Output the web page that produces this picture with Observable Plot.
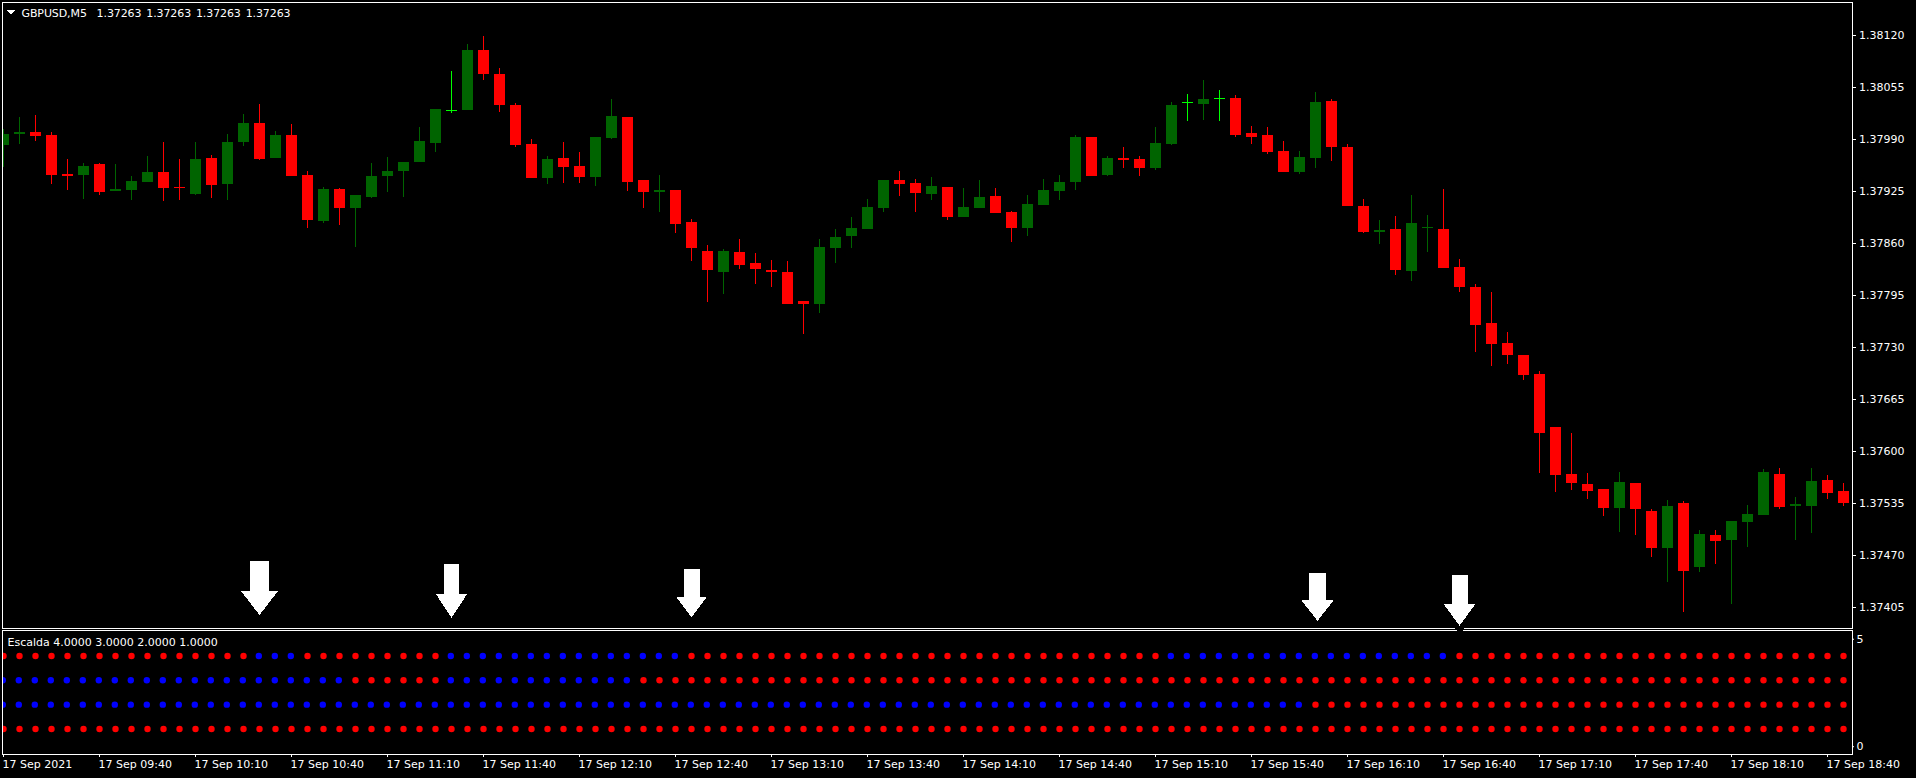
<!DOCTYPE html>
<html>
<head>
<meta charset="utf-8">
<script src="https://cdn.jsdelivr.net/npm/d3@7"></script>
<script src="https://cdn.jsdelivr.net/npm/@observablehq/plot@0.6"></script>
<style>
html,body{margin:0;padding:0;background:#000;overflow:hidden}
#chart{position:relative;width:1916px;height:778px}
#chart svg{display:block;position:absolute;left:0}
.hdr text{word-spacing:1.5px;letter-spacing:-0.1px}
</style>
</head>
<body>
<div id="chart"></div>
<script>
const high=[1.38003,1.38018,1.38020,1.37999,1.37965,1.37960,1.37960,1.37959,1.37944,1.37969,1.37986,1.37965,1.37986,1.37970,1.37996,1.38021,1.38034,1.38000,1.38009,1.37950,1.37930,1.37929,1.37920,1.37960,1.37968,1.37961,1.38005,1.38028,1.38075,1.38109,1.38119,1.38079,1.38035,1.37990,1.37969,1.37986,1.37974,1.37993,1.38040,1.38018,1.37939,1.37945,1.37926,1.37890,1.37858,1.37853,1.37865,1.37848,1.37839,1.37838,1.37788,1.37865,1.37878,1.37893,1.37915,1.37939,1.37950,1.37940,1.37943,1.37930,1.37929,1.37939,1.37929,1.37900,1.37920,1.37940,1.37945,1.37995,1.37993,1.37969,1.37980,1.37969,1.38005,1.38036,1.38046,1.38064,1.38051,1.38045,1.38006,1.38005,1.37988,1.37975,1.38049,1.38040,1.37984,1.37915,1.37889,1.37894,1.37920,1.37895,1.37928,1.37840,1.37809,1.37799,1.37749,1.37720,1.37700,1.37630,1.37623,1.37573,1.37553,1.37574,1.37560,1.37528,1.37539,1.37538,1.37501,1.37501,1.37513,1.37533,1.37578,1.37579,1.37543,1.37579,1.37570,1.37560];
const low=[1.37955,1.37984,1.37988,1.37934,1.37926,1.37915,1.37920,1.37925,1.37914,1.37936,1.37913,1.37914,1.37920,1.37916,1.37914,1.37981,1.37964,1.37966,1.37944,1.37879,1.37885,1.37883,1.37855,1.37916,1.37924,1.37918,1.37961,1.37974,1.38023,1.38026,1.38064,1.38024,1.37980,1.37941,1.37934,1.37935,1.37935,1.37931,1.37990,1.37925,1.37904,1.37899,1.37873,1.37838,1.37786,1.37796,1.37828,1.37809,1.37805,1.37784,1.37746,1.37773,1.37835,1.37854,1.37878,1.37899,1.37919,1.37899,1.37914,1.37889,1.37893,1.37904,1.37898,1.37861,1.37869,1.37908,1.37914,1.37926,1.37944,1.37944,1.37954,1.37944,1.37951,1.37983,1.38013,1.38014,1.38013,1.37993,1.37984,1.37971,1.37949,1.37946,1.37954,1.37963,1.37906,1.37873,1.37859,1.37820,1.37813,1.37849,1.37829,1.37799,1.37724,1.37706,1.37709,1.37689,1.37573,1.37549,1.37551,1.37540,1.37519,1.37499,1.37495,1.37468,1.37436,1.37399,1.37449,1.37459,1.37409,1.37480,1.37520,1.37528,1.37489,1.37498,1.37540,1.37531];
const open=[1.37983,1.37996,1.37999,1.37995,1.37946,1.37945,1.37959,1.37925,1.37926,1.37936,1.37949,1.37930,1.37921,1.37966,1.37934,1.37986,1.38010,1.37966,1.37995,1.37945,1.37888,1.37928,1.37904,1.37918,1.37944,1.37950,1.37961,1.37985,1.38026,1.38026,1.38101,1.38071,1.38033,1.37984,1.37941,1.37966,1.37956,1.37943,1.37991,1.38018,1.37939,1.37924,1.37926,1.37886,1.37850,1.37824,1.37849,1.37835,1.37826,1.37824,1.37788,1.37784,1.37854,1.37869,1.37878,1.37904,1.37939,1.37935,1.37921,1.37930,1.37893,1.37904,1.37919,1.37899,1.37879,1.37908,1.37925,1.37936,1.37993,1.37945,1.37966,1.37965,1.37954,1.37984,1.38036,1.38034,1.38041,1.38041,1.37998,1.37995,1.37975,1.37949,1.37966,1.38038,1.37980,1.37906,1.37874,1.37878,1.37825,1.37879,1.37878,1.37830,1.37805,1.37760,1.37735,1.37720,1.37696,1.37630,1.37571,1.37559,1.37553,1.37529,1.37560,1.37525,1.37479,1.37535,1.37455,1.37495,1.37489,1.37511,1.37520,1.37571,1.37531,1.37531,1.37564,1.37550];
const close=[1.37996,1.37999,1.37994,1.37945,1.37944,1.37956,1.37924,1.37928,1.37938,1.37949,1.37929,1.37929,1.37965,1.37933,1.37986,1.38010,1.37965,1.37995,1.37944,1.37889,1.37928,1.37904,1.37920,1.37944,1.37950,1.37961,1.37988,1.38028,1.38026,1.38101,1.38071,1.38033,1.37983,1.37941,1.37965,1.37955,1.37943,1.37993,1.38019,1.37936,1.37924,1.37926,1.37884,1.37854,1.37826,1.37850,1.37833,1.37828,1.37824,1.37784,1.37784,1.37855,1.37868,1.37879,1.37905,1.37939,1.37934,1.37923,1.37931,1.37893,1.37905,1.37918,1.37898,1.37879,1.37909,1.37926,1.37936,1.37993,1.37944,1.37966,1.37964,1.37954,1.37985,1.38033,1.38036,1.38040,1.38041,1.37995,1.37993,1.37974,1.37949,1.37968,1.38036,1.37980,1.37906,1.37874,1.37876,1.37826,1.37885,1.37880,1.37829,1.37805,1.37758,1.37734,1.37720,1.37695,1.37623,1.37570,1.37560,1.37550,1.37529,1.37561,1.37528,1.37479,1.37531,1.37450,1.37496,1.37488,1.37513,1.37521,1.37574,1.37530,1.37534,1.37563,1.37548,1.37535];

const barMinutes=5;
const startTime=Date.UTC(2021,8,17,9,10);
const priceTicks=[1.38120,1.38055,1.37990,1.37925,1.37860,1.37795,1.37730,1.37665,1.37600,1.37535,1.37470,1.37405];
const timeTickBars=[0,6,12,18,24,30,36,42,48,54,60,66,72,78,84,90,96,102,108,114];
const timeTickLabels=["17 Sep 2021","17 Sep 09:40","17 Sep 10:10","17 Sep 10:40","17 Sep 11:10","17 Sep 11:40","17 Sep 12:10","17 Sep 12:40","17 Sep 13:10","17 Sep 13:40","17 Sep 14:10","17 Sep 14:40","17 Sep 15:10","17 Sep 15:40","17 Sep 16:10","17 Sep 16:40","17 Sep 17:10","17 Sep 17:40","17 Sep 18:10","17 Sep 18:40"];
const headerText="GBPUSD,M5\u00A0\u00A01.37263 1.37263 1.37263 1.37263";
const indicatorText="Escalda 4.0000 3.0000 2.0000 1.0000";

// Arrow annotations: bar position, and price of shaft top, shoulder, tip
const arrowBars=[16,28,43,82.125,91];
const arrowTop=[1.37462,1.37459,1.37453,1.37448,1.37445];
const arrowShoulder=[1.37425,1.37421,1.37418,1.37414,1.37409];
const arrowTip=[1.37395,1.37392,1.37392,1.37388,1.37381];

// Indicator state runs per level: [last bar of run, state]
const levels=[4,3,2,1];
const level4=[[15,"r"],[18,"b"],[27,"r"],[42,"b"],[72,"r"],[90,"b"],[115,"r"]];
const level3=[[21,"b"],[27,"r"],[39,"b"],[115,"r"]];
const level2=[[81,"b"],[115,"r"]];
const level1=[[115,"r"]];

const timeOf=i=>new Date(startTime+i*barMinutes*60000);
const candles=open.map((o,i)=>({time:timeOf(i),open:o,high:high[i],low:low[i],close:close[i]}));
const candleColor=d=>d.close>d.open?"#006400":d.close<d.open?"#ff0000":"#00ff00";
const dots=[level4,level3,level2,level1].flatMap((runs,k)=>{
  const out=[];let s=0;
  for(const [end,state] of runs){for(let i=s;i<=end;i++)out.push({time:timeOf(i),level:levels[k],state});s=end+1;}
  return out;
});
const arrows=arrowBars.map((b,i)=>({time:timeOf(b),top:arrowTop[i],shoulder:arrowShoulder[i],tip:arrowTip[i]}));

const xScale={type:"utc",domain:[timeOf(0),timeOf(open.length-1)],range:[3,1843]};
const style={background:"#000",color:"#fff",fontFamily:"'DejaVu Sans'",fontSize:"11px"};
const bodyHalf=(5.5/16)*barMinutes*60000;
const crisp={shapeRendering:"crispEdges"};
const headDepth=[24,23.7,20.7,21,22];
const headHalfWidth=[18.5,15.5,15.5,16.5,16];
const shaftWidth=[19,15,16,17,16];
const headSymbol=depth=>({draw(c,size){const r=Math.sqrt(size/Math.PI);c.moveTo(-r,-0.5);c.lineTo(r,-0.5);c.lineTo(0,depth-0.5);c.closePath();}});
const menuSymbol={draw(c,size){const r=Math.sqrt(size/Math.PI);c.moveTo(-r,-0.5);c.lineTo(r,-0.5);c.lineTo(0,r-0.5);c.closePath();}};

const main=Plot.plot({
  width:1916,height:630,marginTop:2,marginLeft:2,marginRight:64,marginBottom:2,
  style,
  color:{type:"identity"},
  x:{...xScale,axis:null},
  y:{domain:[1.37405,1.38120],range:[607,35]},
  marks:[
    Plot.ruleX(candles,{x:"time",y1:"low",y2:"high",stroke:candleColor,strokeWidth:1,clip:"frame",...crisp}),
    Plot.ruleX(candles.filter(d=>d.open!==d.close),{x:"time",y1:"open",y2:"close",stroke:candleColor,strokeWidth:11,clip:"frame",...crisp}),
    Plot.ruleY(candles.filter(d=>d.open===d.close),{y:"open",x1:d=>new Date(+d.time-bodyHalf),x2:d=>new Date(+d.time+bodyHalf),dx:0.5,stroke:candleColor,strokeWidth:1,...crisp}),
    Plot.frame({stroke:"#fff",strokeWidth:1}),
    Plot.axisY({anchor:"right",ticks:priceTicks,tickFormat:d=>d.toFixed(5),tickSize:3,tickPadding:3.5,label:null}),
    ...arrows.map((a,i)=>Plot.ruleX([a],{x:"time",y1:"top",y2:"shoulder",stroke:"#fff",strokeWidth:shaftWidth[i],...crisp})),
    ...arrows.map((a,i)=>Plot.dot([a],{x:"time",y:"shoulder",r:headHalfWidth[i],symbol:headSymbol(headDepth[i]),fill:"#fff",stroke:"none",...crisp})),
    Plot.ruleX([arrows[4]],{x:"time",y1:()=>1.37380,y2:()=>1.37376,stroke:"#000",strokeWidth:9,...crisp}),
    Plot.dot([0],{frameAnchor:"top-left",dx:8,dy:8,r:4.5,symbol:menuSymbol,fill:"#fff",stroke:"none",...crisp}),
    Plot.text([headerText],{text:d=>d,frameAnchor:"top-left",textAnchor:"start",lineAnchor:"middle",dx:19,dy:10.5,fill:"#fff",className:"hdr"})
  ]
});

const lower=Plot.plot({
  width:1916,height:148,marginTop:0,marginLeft:2,marginRight:64,marginBottom:24,
  style,
  x:xScale,
  y:{domain:[0,5],range:[122.8,1.15]},
  marks:[
    Plot.dot(dots.filter(d=>d.state==="r"),{x:"time",y:"level",r:3.2,fill:"#ff0000",stroke:"none",clip:"frame"}),
    Plot.dot(dots.filter(d=>d.state==="b"),{x:"time",y:"level",r:3.2,fill:"#0000ff",stroke:"none",dx:-0.7,clip:"frame"}),
    Plot.frame({stroke:"#fff",strokeWidth:1}),
    Plot.ruleX([arrows[4]],{x:"time",y1:()=>5.05,y2:()=>4.96,stroke:"#000",strokeWidth:6,...crisp}),
    Plot.axisX({anchor:"bottom",ticks:timeTickBars.map(timeOf),text:null,tickSize:3,label:null}),
    Plot.axisX({anchor:"bottom",ticks:timeTickBars.map(timeOf),tickFormat:d=>timeTickLabels[timeTickBars.indexOf(Math.round((+d-startTime)/(barMinutes*60000)))],textAnchor:"start",tickSize:0,tickPadding:6,dx:-1,label:null}),
    Plot.axisY({anchor:"right",ticks:[5],tickFormat:d=>String(d),tickSize:1,tickPadding:3,dy:7.6,label:null}),
    Plot.axisY({anchor:"right",ticks:[0],tickFormat:d=>String(d),tickSize:1,tickPadding:3,dy:-6.6,label:null}),
    Plot.text([indicatorText],{text:d=>d,frameAnchor:"top-left",textAnchor:"start",lineAnchor:"middle",dx:5,dy:11.5,fill:"#fff"})
  ]
});
main.style.top="0px";
lower.style.top="630px";
const host=document.getElementById("chart");
host.append(main,lower);
</script>
</body>
</html>
